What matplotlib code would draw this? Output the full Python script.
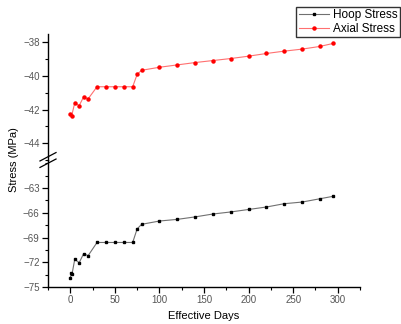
"""Hoop and axial stress vs effective days, with a broken stress axis."""
import matplotlib
matplotlib.use("Agg")
import matplotlib.pyplot as plt
from matplotlib.ticker import MultipleLocator

days = [0, 1.5, 5, 10, 15, 20, 30, 40, 50, 60, 70, 75, 80, 100, 120, 140,
        160, 180, 200, 220, 240, 260, 280, 295]
axial = [-42.28, -42.38, -41.6, -41.76, -41.24, -41.36, -40.64, -40.64,
         -40.64, -40.64, -40.64, -39.9, -39.66, -39.48, -39.34, -39.2,
         -39.08, -38.96, -38.82, -38.66, -38.52, -38.4, -38.24, -38.06]
# the hoop curve has one extra point right at the start
hoop_days = [0, 1, 2, 5, 10, 15, 20, 30, 40, 50, 60, 70, 75, 80, 100, 120,
             140, 160, 180, 200, 220, 240, 260, 280, 295]
hoop = [-73.9, -73.3, -73.4, -71.65, -72.05, -70.95, -71.2, -69.6, -69.6,
        -69.6, -69.6, -69.6, -67.95, -67.4, -67.0, -66.8, -66.5, -66.15,
        -65.9, -65.6, -65.3, -64.9, -64.7, -64.3, -64.0]

plt.rcParams["font.family"] = ["Liberation Sans", "DejaVu Sans"]

fig = plt.figure(figsize=(4.01, 3.24), dpi=100)
left, width = 48 / 401, 312 / 401
ax_lo = fig.add_axes([left, 37 / 324, width, 127 / 324])
ax_hi = fig.add_axes([left, 164 / 324, width, 126 / 324])

tick_col = "#555555"
for ax in (ax_hi, ax_lo):
    ax.spines["top"].set_visible(False)
    ax.spines["right"].set_visible(False)
    ax.spines["left"].set_linewidth(1.0)
    ax.spines["bottom"].set_linewidth(1.0)
    ax.tick_params(axis="both", which="major", direction="out", length=4,
                   width=0.9, labelsize=7, labelcolor=tick_col, pad=2)
    ax.tick_params(axis="both", which="minor", direction="out", length=2,
                   width=0.8)
    ax.set_xlim(-25, 325)

ax_hi.spines["bottom"].set_visible(False)
ax_hi.tick_params(axis="x", which="both", bottom=False, labelbottom=False)

hoop_line, = ax_lo.plot(hoop_days, hoop, color="#707070", lw=0.8, marker="s",
                        ms=2.0, mfc="black", mec="black", label="Hoop Stress")
axial_line, = ax_hi.plot(days, axial, color="#ff7070", lw=0.8, marker="o",
                         ms=2.2, mfc="red", mec="red", label="Axial Stress")

ax_hi.set_ylim(-45, -37.5)
ax_hi.yaxis.set_major_locator(MultipleLocator(2))
ax_hi.yaxis.set_minor_locator(MultipleLocator(1))

ax_lo.set_ylim(-75, -59.6)
ax_lo.set_yticks([-75, -72, -69, -66, -63])
ax_lo.yaxis.set_minor_locator(MultipleLocator(1.5))
ax_lo.xaxis.set_major_locator(MultipleLocator(50))
ax_lo.xaxis.set_minor_locator(MultipleLocator(25))

# break marks on the y axis
for dy in (-0.01, 0.01):
    fig.add_artist(plt.Line2D([left - 0.02, left + 0.02],
                              [164 / 324 + dy - 0.013, 164 / 324 + dy + 0.013],
                              color="black", lw=0.9))

ax_lo.set_xlabel("Effective Days", fontsize=8, labelpad=4)
fig.text(0.035, 164 / 324, "Stress (MPa)", rotation=90, fontsize=8,
         ha="center", va="center")

fig.legend(handles=[hoop_line, axial_line], loc="upper right",
           bbox_to_anchor=(0.997, 0.978), fontsize=8.5, frameon=True,
           fancybox=False, edgecolor="black", borderpad=0.2,
           handlelength=2.6, handletextpad=0.3, labelspacing=0.1,
           borderaxespad=0)

fig.savefig("out.png", dpi=100)
